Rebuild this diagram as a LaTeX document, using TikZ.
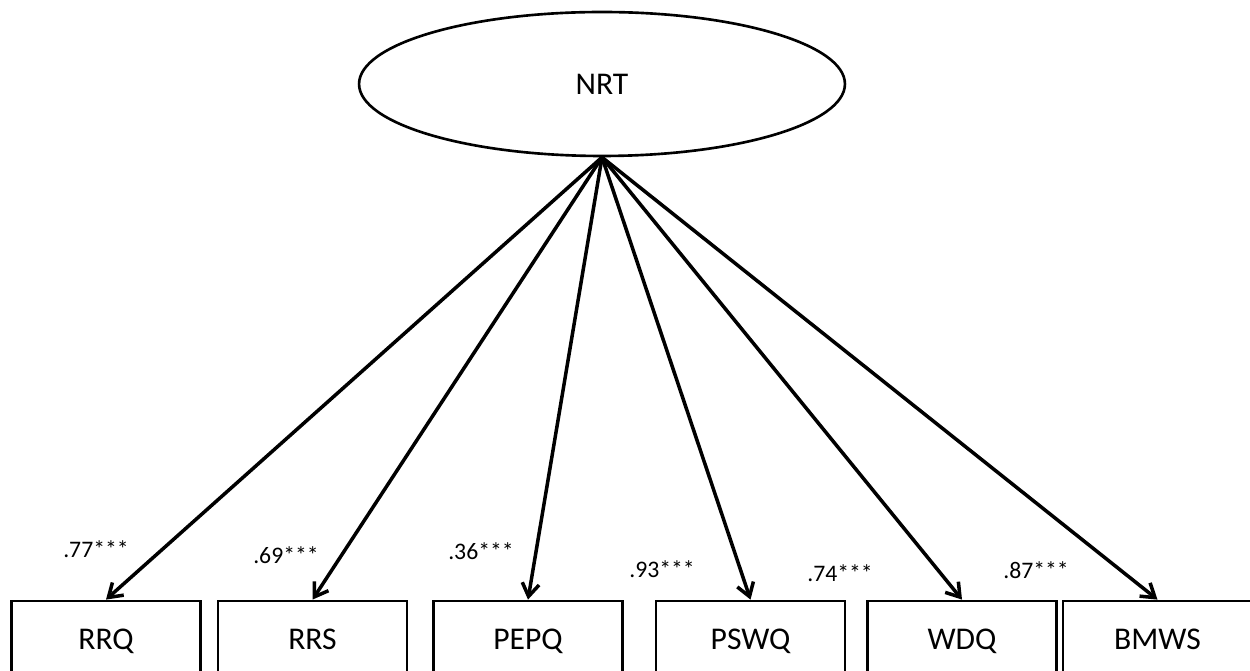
\documentclass[tikz,border=0pt]{standalone}
\usepackage{fontspec}
\setmainfont{Carlito}
\usepackage{tikz}
\usetikzlibrary{shapes.geometric,arrows.meta}

\begin{document}
\begin{tikzpicture}[x=0.02cm,y=-0.02cm,
latent/.style={ellipse,draw,line width=1.5pt,minimum width=9.72cm,minimum height=2.88cm,font=\fontsize{18}{21}\selectfont},
observed/.style={rectangle,draw,line width=1.6pt,minimum width=3.78cm,minimum height=1.64cm,text height=11pt,text depth=3pt,font=\fontsize{18}{21}\selectfont},
load/.style={anchor=base,font=\fontsize{13.5}{16}\selectfont},
path/.style={-{Straight Barb[length=2.6mm,width=3.4mm]},line width=2pt}]
\useasboundingbox (0,0) rectangle (1250,671);
\clip (0,0) rectangle (1250,671);
\node[latent] (nrt) at (602,84) {NRT};
\node[observed] (rrq) at (106,642) {RRQ};
\node[observed] (rrs) at (312.5,642) {RRS};
\node[observed] (pepq) at (528,642) {PEPQ};
\node[observed] (pswq) at (750.5,642) {PSWQ};
\node[observed] (wdq) at (962,642) {WDQ};
\node[observed] (bmws) at (1157.5,642) {BMWS};
\foreach \n in {rrq,rrs,pepq,pswq,wdq,bmws}
\draw[path] (nrt.south) -- (\n.north);
% loadings
\node[load] (l1) at (96,558) {.77***};
\node[load] (l2) at (286,563) {.69***};
\node[load] (l3) at (481,560) {.36***};
\node[load] (l4) at (662,578) {.93***};
\node[load] (l5) at (840,582) {.74***};
\node[load] (l6) at (1036,579) {.87***};
\end{tikzpicture}
\end{document}
